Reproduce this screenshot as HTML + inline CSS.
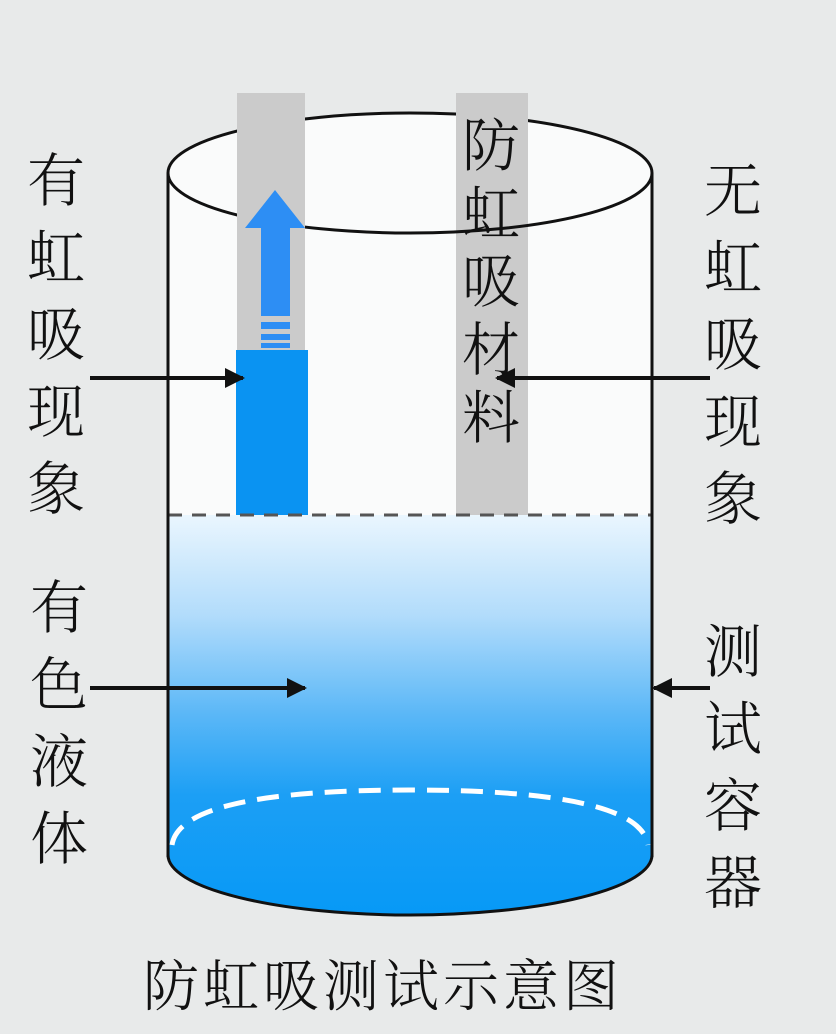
<!DOCTYPE html>
<html><head><meta charset="utf-8"><style>
html,body{margin:0;padding:0;background:#e8eaea;}
svg{display:block}
text{font-family:"Noto Serif CJK SC","Liberation Serif",serif;fill:#111;font-size:58px;font-weight:300;}
</style></head><body>
<svg width="836" height="1034" viewBox="0 0 836 1034" xmlns="http://www.w3.org/2000/svg">
<defs>
<linearGradient id="liq" gradientUnits="userSpaceOnUse" x1="0" y1="515" x2="0" y2="915">
<stop offset="0" stop-color="#eaf6fe"/>
<stop offset="0.25" stop-color="#b2dcfb"/>
<stop offset="0.5" stop-color="#5ab7f7"/>
<stop offset="0.7" stop-color="#1c9ff5"/>
<stop offset="1" stop-color="#0799f6"/>
</linearGradient>
<marker id="ah" viewBox="0 0 10 10" refX="9" refY="5" markerWidth="5" markerHeight="5" orient="auto"><path d="M0,0 L10,5 L0,10 z" fill="#111"/></marker>
</defs>
<path d="M168,173 L168,855 A242,60 0 0 0 652,855 L652,173 Z" fill="#fafbfb"/>
<ellipse cx="410" cy="173" rx="242" ry="60" fill="#fafbfb"/>
<path d="M168,515 L652,515 L652,855 A242,60 0 0 1 168,855 Z" fill="url(#liq)"/>
<path d="M172,845 Q180,790 410,790 Q640,790 648,845" fill="none" stroke="#fff" stroke-width="5" stroke-dasharray="22,12"/>
<path d="M168,173 A242,60 0 0 1 652,173" fill="none" stroke="#111" stroke-width="3"/>
<rect x="456" y="93" width="72" height="422" fill="#cbcbcb"/>
<path d="M168,173 A242,60 0 0 0 652,173" fill="none" stroke="#111" stroke-width="3"/>
<rect x="237" y="93" width="68" height="422" fill="#cbcbcb"/>
<rect x="236" y="350" width="72" height="165" fill="#0a93f2"/>
<rect x="261" y="228" width="29" height="88" fill="#2d8ef4"/>
<polygon points="275,190 305,228 245,228" fill="#2d8ef4"/>
<rect x="261" y="322" width="29" height="7" fill="#2d8ef4"/>
<rect x="261" y="334" width="29" height="6" fill="#2d8ef4"/>
<rect x="261" y="343" width="29" height="5" fill="#2d8ef4"/>
<line x1="168" y1="515" x2="652" y2="515" stroke="#555" stroke-width="3" stroke-dasharray="14,10"/>
<line x1="168" y1="173" x2="168" y2="857" stroke="#111" stroke-width="3"/>
<line x1="652" y1="173" x2="652" y2="857" stroke="#111" stroke-width="3"/>
<path d="M168,855 A242,60 0 0 0 652,855" fill="none" stroke="#111" stroke-width="3"/>
<line x1="90" y1="378" x2="243" y2="378" stroke="#111" stroke-width="4" marker-end="url(#ah)"/>
<line x1="710" y1="378" x2="497" y2="378" stroke="#111" stroke-width="4" marker-end="url(#ah)"/>
<line x1="90" y1="688" x2="305" y2="688" stroke="#111" stroke-width="4" marker-end="url(#ah)"/>
<line x1="710" y1="688" x2="654" y2="688" stroke="#111" stroke-width="4" marker-end="url(#ah)"/>
<g>
<text x="27" y="201">有</text><text x="27" y="278">虹</text><text x="27" y="355">吸</text><text x="27" y="432">现</text><text x="27" y="509">象</text>
<text x="704" y="211">无</text><text x="704" y="288">虹</text><text x="704" y="365">吸</text><text x="704" y="442">现</text><text x="704" y="519">象</text>
<text x="462" y="166">防</text><text x="462" y="234">虹</text><text x="462" y="302">吸</text><text x="462" y="370">材</text><text x="462" y="438">料</text>
<text x="30" y="628">有</text><text x="30" y="705">色</text><text x="30" y="782">液</text><text x="30" y="859">体</text>
<text x="704" y="672">测</text><text x="704" y="749">试</text><text x="704" y="826">容</text><text x="704" y="903">器</text>
<text x="143" y="1006" style="font-size:56px;letter-spacing:4px">防虹吸测试示意图</text>
</g>
</svg>
</body></html>
